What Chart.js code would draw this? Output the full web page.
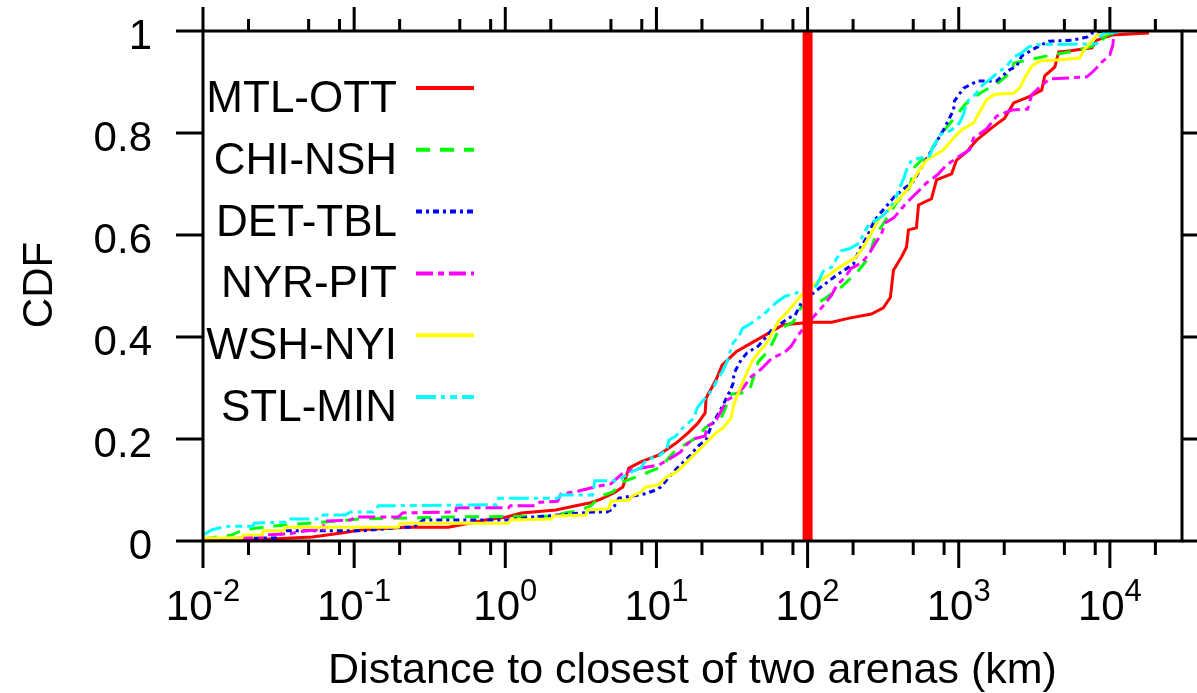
<!DOCTYPE html>
<html>
<head>
<meta charset="utf-8">
<script src="https://cdn.jsdelivr.net/npm/chart.js@4.4.1/dist/chart.umd.min.js"></script>
<style>
  html, body { margin: 0; padding: 0; background: #fff; }
  #wrap { width: 1197px; height: 693px; }
</style>
</head>
<body>
<div id="wrap"><canvas id="cdf" width="1197" height="693"></canvas></div>
<script>
// series (x = km, y = CDF)
const mtlX = [0.0105, 0.0205, 0.0528, 0.0847, 0.113, 0.218, 0.421, 0.740, 1.02, 1.28, 2.16, 2.93, 3.68, 4.28, 5.22, 5.99, 6.57, 7.89, 10.4, 13.5, 16.2, 18.8, 21.0, 21.3, 24.8, 27.2, 33.7, 42.3, 55.7, 69.0, 106, 144, 189, 264, 317, 353, 370, 418, 451, 465, 525, 542, 660, 713, 897, 967, 1127, 1313, 1651, 2012, 2309, 2903, 3540, 3707, 4317, 4590, 5347, 7597, 8201, 10300, 18130];
const mtlY = [0.002, 0.002, 0.008, 0.016, 0.022, 0.027, 0.027, 0.041, 0.047, 0.055, 0.061, 0.069, 0.075, 0.082, 0.094, 0.106, 0.143, 0.155, 0.169, 0.192, 0.212, 0.231, 0.251, 0.280, 0.316, 0.345, 0.371, 0.388, 0.408, 0.424, 0.429, 0.429, 0.437, 0.445, 0.457, 0.478, 0.531, 0.557, 0.576, 0.610, 0.614, 0.659, 0.671, 0.708, 0.720, 0.747, 0.763, 0.786, 0.810, 0.829, 0.859, 0.871, 0.884, 0.912, 0.929, 0.959, 0.961, 0.967, 0.982, 0.992, 0.996];

const chiX = [0.01, 0.0156, 0.0184, 0.0287, 0.0497, 0.0773, 0.108, 0.427, 1.97, 2.47, 3.06, 3.68, 4.28, 5.15, 5.99, 7.89, 10.7, 12.9, 14.5, 16.9, 19.1, 21.0, 26.8, 31.2, 41.0, 47.1, 55.7, 64.9, 80.3, 90.8, 109, 131, 167, 210, 253, 281, 387, 472, 509, 660, 746, 910, 1110, 1417, 1781, 2240, 2309, 3038, 4124, 6041, 8201, 9550, 11130];
const chiY = [0.004, 0.012, 0.022, 0.029, 0.035, 0.039, 0.043, 0.047, 0.049, 0.055, 0.059, 0.069, 0.088, 0.096, 0.116, 0.129, 0.145, 0.173, 0.184, 0.196, 0.206, 0.222, 0.241, 0.288, 0.292, 0.351, 0.375, 0.416, 0.429, 0.459, 0.461, 0.476, 0.498, 0.525, 0.555, 0.598, 0.663, 0.692, 0.733, 0.767, 0.794, 0.825, 0.857, 0.880, 0.896, 0.920, 0.937, 0.945, 0.953, 0.961, 0.973, 0.992, 0.998];

const detX = [0.01, 0.0196, 0.0300, 0.0355, 0.113, 0.212, 0.247, 0.287, 1.02, 1.52, 1.88, 3.85, 4.70, 5.15, 5.64, 8.26, 9.48, 10.7, 12.1, 13.5, 16.9, 18.8, 21.3, 23.0, 25.6, 27.6, 29.3, 32.1, 32.6, 36.3, 39.8, 47.1, 54.0, 59.2, 65.9, 74.4, 82.8, 90.8, 120, 157, 201, 220, 249, 277, 375, 502, 793, 924, 938, 1076, 1333, 1781, 2173, 2417, 2609, 3230, 3939, 5598, 7039, 7597, 9550];
const detY = [0, 0.006, 0.006, 0.020, 0.020, 0.027, 0.027, 0.041, 0.041, 0.047, 0.049, 0.057, 0.057, 0.063, 0.084, 0.092, 0.098, 0.106, 0.125, 0.141, 0.169, 0.186, 0.198, 0.225, 0.249, 0.267, 0.282, 0.308, 0.329, 0.355, 0.369, 0.382, 0.402, 0.418, 0.425, 0.437, 0.443, 0.467, 0.496, 0.522, 0.543, 0.571, 0.598, 0.629, 0.675, 0.706, 0.806, 0.845, 0.863, 0.888, 0.902, 0.902, 0.924, 0.931, 0.951, 0.967, 0.980, 0.982, 0.988, 0.996, 0.998];

const nyrX = [0.01, 0.0184, 0.0254, 0.0262, 0.0371, 0.0474, 0.0624, 0.0634, 0.0943, 0.103, 0.196, 0.209, 0.468, 0.476, 1.05, 1.08, 1.59, 1.69, 2.22, 2.33, 3.06, 4.16, 4.99, 5.99, 7.31, 10.4, 12.5, 14.5, 15.7, 17.5, 21.0, 21.6, 24.4, 26.8, 29.3, 32.6, 37.4, 42.3, 49.3, 58.3, 70.0, 77.9, 84.1, 92.1, 112, 127, 144, 155, 175, 195, 227, 253, 281, 308, 327, 370, 451, 525, 612, 724, 830, 1013, 1180, 1254, 1529, 1781, 2240, 2859, 3038, 3487, 4000, 7039, 7832, 8847, 9998, 10470, 10630];
const nyrY = [0.002, 0.006, 0.008, 0.012, 0.014, 0.020, 0.022, 0.039, 0.041, 0.047, 0.047, 0.055, 0.057, 0.065, 0.065, 0.069, 0.069, 0.076, 0.078, 0.092, 0.098, 0.108, 0.112, 0.133, 0.141, 0.149, 0.163, 0.175, 0.188, 0.200, 0.206, 0.225, 0.233, 0.255, 0.276, 0.284, 0.300, 0.322, 0.337, 0.359, 0.369, 0.382, 0.398, 0.414, 0.443, 0.461, 0.482, 0.500, 0.516, 0.535, 0.545, 0.561, 0.584, 0.602, 0.624, 0.633, 0.663, 0.682, 0.702, 0.718, 0.737, 0.755, 0.767, 0.790, 0.808, 0.833, 0.845, 0.847, 0.875, 0.892, 0.906, 0.910, 0.922, 0.939, 0.953, 0.973, 0.996];

const wshX = [0.01, 0.0181, 0.0184, 0.0246, 0.0250, 0.0344, 0.0349, 0.196, 0.202, 1.05, 1.08, 2.00, 2.09, 3.41, 3.51, 4.84, 4.99, 6.57, 6.88, 7.89, 8.52, 10.4, 11.6, 13.5, 15.0, 16.9, 18.8, 21.9, 24.8, 27.6, 31.2, 32.6, 34.7, 37.4, 39.8, 43.0, 47.8, 53.2, 59.2, 64.9, 73.3, 81.5, 92.1, 114, 139, 167, 210, 234, 264, 294, 332, 375, 418, 472, 509, 567, 612, 793, 924, 1044, 1254, 1374, 1529, 1728, 2309, 2531, 2732, 3038, 3434, 4452, 6324, 6722, 7597, 8201, 9845];
const wshY = [0.006, 0.006, 0.012, 0.012, 0.020, 0.020, 0.027, 0.027, 0.035, 0.035, 0.041, 0.043, 0.049, 0.051, 0.061, 0.063, 0.078, 0.080, 0.088, 0.096, 0.106, 0.110, 0.125, 0.135, 0.147, 0.163, 0.176, 0.196, 0.212, 0.222, 0.241, 0.269, 0.290, 0.312, 0.331, 0.353, 0.371, 0.386, 0.412, 0.433, 0.449, 0.465, 0.484, 0.506, 0.522, 0.539, 0.557, 0.576, 0.604, 0.629, 0.645, 0.661, 0.676, 0.694, 0.712, 0.733, 0.747, 0.767, 0.790, 0.806, 0.820, 0.841, 0.865, 0.876, 0.878, 0.888, 0.908, 0.931, 0.941, 0.943, 0.947, 0.963, 0.980, 0.992, 0.996];

const stlX = [0.01, 0.0115, 0.0134, 0.0149, 0.0214, 0.0218, 0.0349, 0.0360, 0.0596, 0.0624, 0.0874, 0.0943, 0.134, 0.145, 0.876, 0.903, 2.22, 2.33, 3.79, 3.91, 5.64, 5.99, 6.77, 7.89, 8.52, 10.4, 11.7, 12.1, 13.5, 14.5, 15.9, 17.7, 18.6, 20.3, 22.3, 24.1, 25.6, 27.2, 29.3, 30.7, 32.1, 35.2, 36.9, 42.3, 47.1, 51.6, 57.4, 62.9, 71.1, 84.1, 92.1, 114, 121, 127, 144, 155, 167, 189, 220, 234, 256, 285, 317, 348, 370, 387, 411, 431, 451, 487, 641, 671, 746, 897, 1013, 1076, 1127, 1313, 1439, 1651, 1808, 2075, 2309, 2609, 2903, 3281, 8201, 8453, 9124, 11470];
const stlY = [0.012, 0.022, 0.027, 0.029, 0.029, 0.035, 0.037, 0.043, 0.043, 0.051, 0.051, 0.057, 0.057, 0.069, 0.071, 0.084, 0.084, 0.090, 0.090, 0.118, 0.118, 0.125, 0.135, 0.143, 0.159, 0.167, 0.178, 0.198, 0.206, 0.218, 0.229, 0.241, 0.261, 0.275, 0.288, 0.304, 0.320, 0.331, 0.351, 0.371, 0.388, 0.402, 0.416, 0.427, 0.437, 0.445, 0.459, 0.469, 0.480, 0.486, 0.494, 0.500, 0.516, 0.529, 0.537, 0.553, 0.569, 0.573, 0.584, 0.602, 0.622, 0.629, 0.639, 0.651, 0.665, 0.676, 0.696, 0.710, 0.727, 0.747, 0.755, 0.769, 0.796, 0.806, 0.820, 0.837, 0.861, 0.878, 0.894, 0.908, 0.918, 0.931, 0.949, 0.957, 0.969, 0.973, 0.975, 0.986, 0.996, 0.998];

// the marker line at 100 km
const markerX = [100, 100];
const markerY = [0, 1];

const seriesNames = ['MTL-OTT', 'CHI-NSH', 'DET-TBL', 'NYR-PIT', 'WSH-NYI', 'STL-MIN'];

// axes
const xMin = 0.01, xMax = 30000;
const xMajorTicks = [0.01, 0.1, 1, 10, 100, 1000, 10000];
const xTickExponents = ['-2', '-1', '0', '1', '2', '3', '4'];
const xMinorTicks = [0.02, 0.05, 0.08, 0.2, 0.5, 0.8, 2, 5, 8, 20, 50, 80, 200, 500, 800, 2000, 5000, 8000, 20000];
const yTicks = [0, 0.2, 0.4, 0.6, 0.8, 1];

const FONT = "'Liberation Sans', Arial, Helvetica, sans-serif";

function pts(xs, ys) {
    return xs.map((x, i) => ({ x: x, y: ys[i] }));
}

const styles = [
    { color: '#ff0000', dash: [] },
    { color: '#00ff00', dash: [14, 10] },
    { color: '#0000ff', dash: [6, 4, 3, 4] },
    { color: '#ff00ff', dash: [17, 5, 6, 5] },
    { color: '#ffff00', dash: [] },
    { color: '#00ffff', dash: [20, 5, 4, 5, 7, 5] }
];

const allX = [mtlX, chiX, detX, nyrX, wshX, stlX];
const allY = [mtlY, chiY, detY, nyrY, wshY, stlY];

const datasets = seriesNames.map((name, i) => ({
    label: name,
    data: pts(allX[i], allY[i]),
    borderColor: styles[i].color,
    borderDash: styles[i].dash,
    borderWidth: 3,
    pointRadius: 0,
    fill: false,
    tension: 0,
    order: 6 - i
}));
datasets.push({
    label: 'marker',
    data: pts(markerX, markerY),
    borderColor: '#ff0000',
    borderWidth: 10,
    pointRadius: 0,
    fill: false,
    clip: false,
    order: 0
});

// frame, gnuplot style ticks, x labels, titles and key
const gnuplotLook = {
    id: 'gnuplotLook',
    afterDraw(chart) {
        const ctx = chart.ctx;
        const a = chart.chartArea;
        const xs = chart.scales.x;
        const ys = chart.scales.y;
        ctx.save();
        ctx.strokeStyle = '#000';
        ctx.lineWidth = 3;
        ctx.strokeRect(a.left, a.top, a.right - a.left, a.bottom - a.top);

        ctx.beginPath();
        xMajorTicks.forEach(v => {
            const px = xs.getPixelForValue(v);
            ctx.moveTo(px, a.bottom); ctx.lineTo(px, a.bottom + 27);
            ctx.moveTo(px, a.top); ctx.lineTo(px, a.top - 24);
        });
        xMinorTicks.forEach(v => {
            const px = xs.getPixelForValue(v);
            ctx.moveTo(px, a.bottom); ctx.lineTo(px, a.bottom + 14);
            ctx.moveTo(px, a.top); ctx.lineTo(px, a.top - 12);
        });
        yTicks.forEach(v => {
            const py = ys.getPixelForValue(v);
            ctx.moveTo(a.left, py); ctx.lineTo(a.left - 27, py);
            ctx.moveTo(a.right, py); ctx.lineTo(a.right + 27, py);
        });
        ctx.stroke();

        // 10^k labels
        ctx.fillStyle = '#000';
        ctx.textAlign = 'left';
        ctx.textBaseline = 'alphabetic';
        xMajorTicks.forEach((v, i) => {
            const px = xs.getPixelForValue(v);
            ctx.font = '42px ' + FONT;
            const w1 = ctx.measureText('10').width;
            ctx.font = '31px ' + FONT;
            const w2 = ctx.measureText(xTickExponents[i]).width;
            const start = px - (w1 + w2) / 2;
            ctx.font = '42px ' + FONT;
            ctx.fillText('10', start, a.bottom + 79);
            ctx.font = '31px ' + FONT;
            ctx.fillText(xTickExponents[i], start + w1, a.bottom + 60);
        });

        // axis titles
        ctx.font = '43px ' + FONT;
        ctx.textAlign = 'center';
        ctx.fillText('Distance to closest of two arenas (km)', (a.left + a.right) / 2, 683);
        ctx.save();
        ctx.translate(52, 285);
        ctx.rotate(-Math.PI / 2);
        ctx.font = '42px ' + FONT;
        ctx.fillText('CDF', 0, 0);
        ctx.restore();

        // key
        ctx.font = '44px ' + FONT;
        ctx.textAlign = 'right';
        seriesNames.forEach((name, i) => {
            const base = 112 + i * 61.8;
            ctx.fillStyle = '#000';
            ctx.fillText(name, 397, base);
            ctx.beginPath();
            ctx.strokeStyle = styles[i].color;
            ctx.setLineDash(styles[i].dash);
            ctx.lineWidth = 4;
            ctx.moveTo(416, base - 24);
            ctx.lineTo(474, base - 24);
            ctx.stroke();
        });
        ctx.setLineDash([]);
        ctx.restore();
    }
};

new Chart(document.getElementById('cdf'), {
    type: 'line',
    data: { datasets: datasets },
    options: {
        responsive: false,
        animation: false,
        devicePixelRatio: 1,
        layout: { padding: { left: 0, right: 15, top: 31, bottom: 0 } },
        plugins: { legend: { display: false }, tooltip: { enabled: false } },
        scales: {
            x: {
                type: 'logarithmic',
                min: xMin,
                max: xMax,
                grid: { display: false, drawTicks: false },
                border: { display: false },
                ticks: { display: false },
                afterFit: s => {
                    s.height = 152;
                    s.paddingLeft = 0; s.paddingRight = 0;
                }
            },
            y: {
                type: 'linear',
                min: 0,
                max: 1,
                grid: { display: false, drawTicks: false },
                border: { display: false },
                afterBuildTicks: s => { s.ticks = yTicks.map(v => ({ value: v })); },
                ticks: {
                    color: '#000',
                    font: { family: FONT, size: 42 },
                    padding: 51,
                    labelOffset: 6,
                    callback: v => String(+v.toFixed(1))
                },
                afterFit: s => {
                    s.width = 203;
                    s.paddingTop = 0; s.paddingBottom = 0;
                }
            }
        }
    },
    plugins: [gnuplotLook]
});
</script>
</body>
</html>
